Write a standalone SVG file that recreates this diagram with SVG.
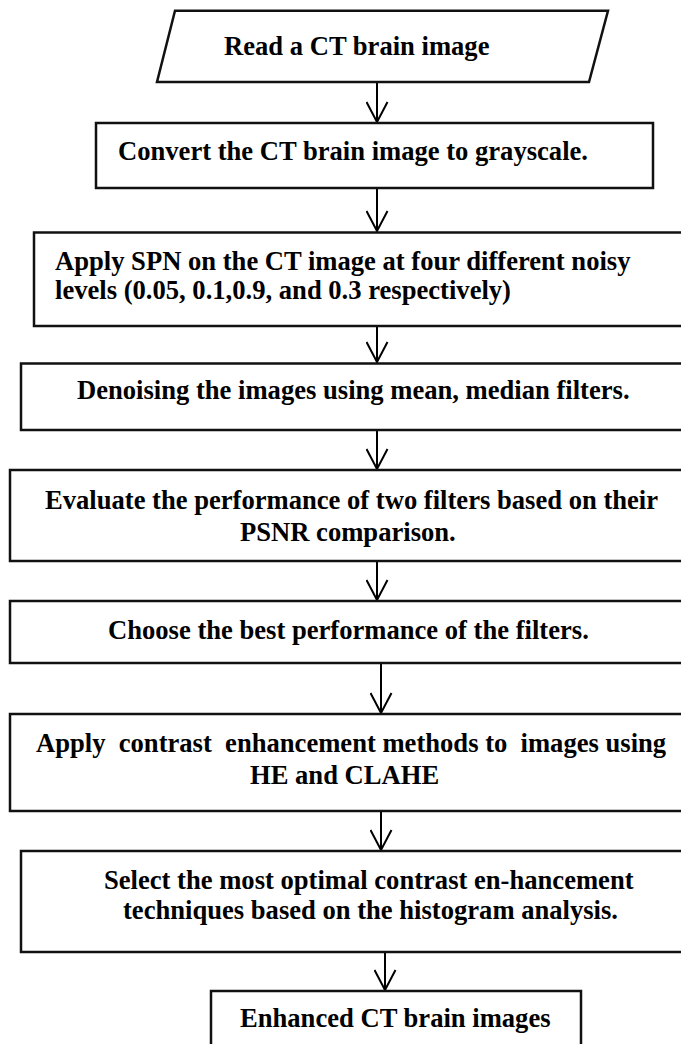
<svg xmlns="http://www.w3.org/2000/svg" width="681" height="1044" viewBox="0 0 681 1044">
  <style>
    .box { fill: #fff; stroke: #111; stroke-width: 2.5; }
    .lbl { font-family: "Liberation Serif", "Times New Roman", serif; font-weight: bold; font-size: 26.6px; fill: #000; white-space: pre; }
    .link { stroke: #000; stroke-width: 2; fill: none; marker-end: url(#vhead); }
  </style>
  <defs>
    <!-- open V arrowhead -->
    <marker id="vhead" markerUnits="userSpaceOnUse" viewBox="0 0 22 23" refX="21" refY="11.5" markerWidth="22" markerHeight="23" orient="auto">
      <path d="M1,1 L21,11.5 L1,22" fill="none" stroke="#000" stroke-width="2"/>
    </marker>
  </defs>

  <rect width="681" height="1044" fill="#fff"/>

  <g id="connectors">
    <line class="link" x1="377" y1="82" x2="377" y2="122"/>
    <line class="link" x1="377" y1="188" x2="377" y2="231"/>
    <line class="link" x1="377" y1="326" x2="377" y2="362"/>
    <line class="link" x1="377" y1="430" x2="377" y2="469"/>
    <line class="link" x1="377" y1="561" x2="377" y2="600"/>
    <line class="link" x1="381" y1="663" x2="381" y2="713"/>
    <line class="link" x1="381" y1="811" x2="381" y2="850"/>
    <line class="link" x1="385" y1="952" x2="385" y2="990"/>
  </g>

  <g id="read-image">
    <polygon class="box" points="175,10.7 608,10.7 589,82 157,82"/>
    <text class="lbl" x="224" y="55">Read a CT brain image</text>
  </g>

  <g id="grayscale">
    <rect class="box" x="96" y="123" width="557" height="65"/>
    <text class="lbl" x="118" y="160">Convert the CT brain image to grayscale.</text>
  </g>

  <g id="add-noise">
    <rect class="box" x="34" y="232.5" width="660" height="93.5"/>
    <text class="lbl" x="55" y="270">Apply SPN on the CT image at four different noisy</text>
    <text class="lbl" x="55" y="299">levels (0.05, 0.1,0.9, and 0.3 respectively)</text>
  </g>

  <g id="denoise">
    <rect class="box" x="21" y="363.5" width="673" height="66.5"/>
    <text class="lbl" x="77" y="399">Denoising the images using mean, median filters.</text>
  </g>

  <g id="evaluate">
    <rect class="box" x="10" y="470" width="684" height="91"/>
    <text class="lbl" x="45" y="509">Evaluate the performance of two filters based on their</text>
    <text class="lbl" x="240" y="541">PSNR comparison.</text>
  </g>

  <g id="choose">
    <rect class="box" x="10" y="601" width="684" height="62"/>
    <text class="lbl" x="108" y="639">Choose the best performance of the filters.</text>
  </g>

  <g id="enhance">
    <rect class="box" x="10" y="714" width="684" height="97"/>
    <text class="lbl" x="36" y="752">Apply  contrast  enhancement methods to  images using</text>
    <text class="lbl" x="250" y="784">HE and CLAHE</text>
  </g>

  <g id="select">
    <rect class="box" x="21" y="851" width="673" height="101"/>
    <text class="lbl" x="104" y="889">Select the most optimal contrast en-hancement</text>
    <text class="lbl" x="123" y="919">techniques based on the histogram analysis.</text>
  </g>

  <g id="result">
    <rect class="box" x="211" y="991" width="370" height="70"/>
    <text class="lbl" x="240" y="1027">Enhanced CT brain images</text>
  </g>
</svg>
